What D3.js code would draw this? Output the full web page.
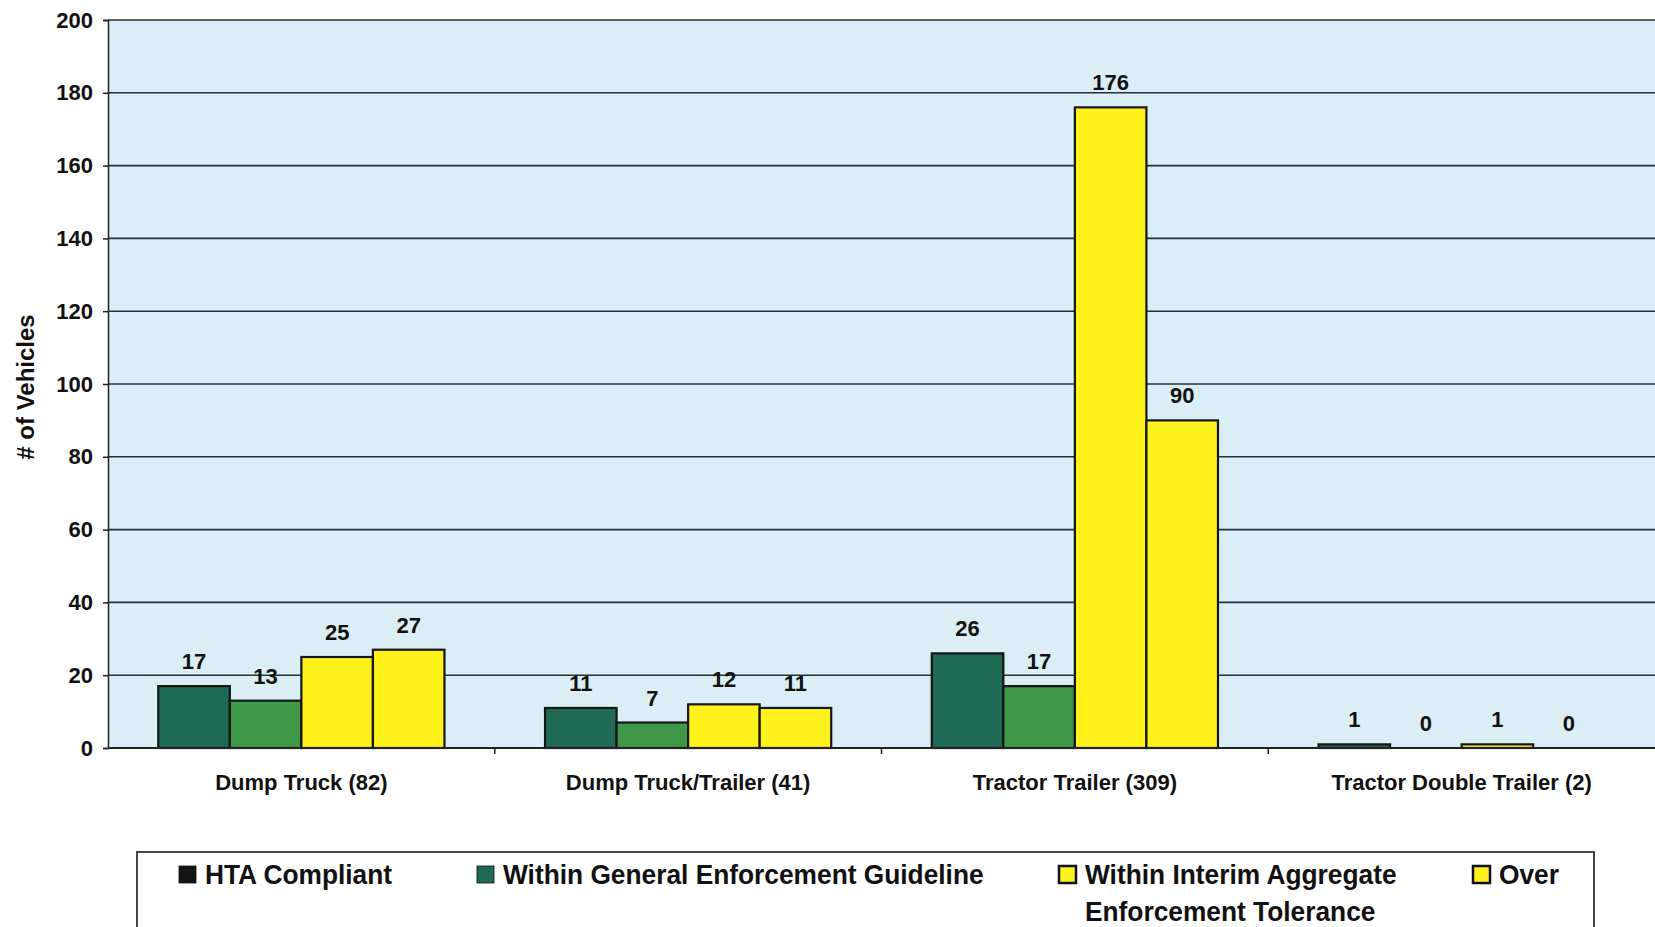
<!DOCTYPE html>
<html>
<head>
<meta charset="utf-8">
<script src="https://cdn.jsdelivr.net/npm/d3@7"></script>
<style>
  html, body { margin: 0; padding: 0; background: #ffffff; }
  svg { display: block; }
  text { font-family: "Liberation Sans", Arial, sans-serif; font-weight: bold; fill: #111; }
</style>
</head>
<body>
<svg id="chart" width="1655" height="927"></svg>
<script>
// Vehicle classes and the number of vehicles in each weight category
const categories = ["Dump Truck (82)", "Dump Truck/Trailer (41)", "Tractor Trailer (309)", "Tractor Double Trailer (2)"];
const seriesNames = ["HTA Compliant", "Within General Enforcement Guideline", "Within Interim Aggregate Enforcement Tolerance", "Over"];
const htaCompliant   = [17, 11, 26, 1];
const withinGeneral  = [13, 7, 17, 0];
const withinInterim  = [25, 12, 176, 1];
const overLimit      = [27, 11, 90, 0];
const yTicks = [0, 20, 40, 60, 80, 100, 120, 140, 160, 180, 200];

const seriesValues = [htaCompliant, withinGeneral, withinInterim, overLimit];
const seriesColors = ["#1f6a54", "#3f9847", "#fff21c", "#fff21c"];
const legendSwatch = ["#141414", "#1f6a54", "#fff21c", "#fff21c"];

const svg = d3.select("#chart");
const plot = { left: 108, right: 1655, top: 20, bottom: 748 };

const x0 = d3.scaleBand().domain(categories)
  .range([plot.left, plot.right]).paddingInner(0.26).paddingOuter(0.13);
const x1 = d3.scaleBand().domain(d3.range(seriesNames.length))
  .range([0, x0.bandwidth()]).padding(0);
const y = d3.scaleLinear().domain([0, 200]).range([plot.bottom, plot.top]);

// plot background
svg.append("rect")
  .attr("x", plot.left).attr("y", plot.top)
  .attr("width", plot.right - plot.left).attr("height", plot.bottom - plot.top)
  .attr("fill", "#d9eff5");

// horizontal gridlines
svg.append("g").selectAll("line").data(yTicks.filter(d => d > 0)).join("line")
  .attr("x1", plot.left).attr("x2", plot.right)
  .attr("y1", d => y(d)).attr("y2", d => y(d))
  .attr("stroke", "#2a2f33").attr("stroke-width", 1.6);

// y axis
const yAxis = svg.append("g").attr("transform", `translate(${plot.left},0)`)
  .call(d3.axisLeft(y).tickValues(yTicks).tickSize(5).tickPadding(10));
yAxis.select(".domain").attr("stroke", "#222").attr("stroke-width", 1.5);
yAxis.selectAll(".tick line").attr("stroke", "#222").attr("stroke-width", 1.5);
yAxis.selectAll(".tick text")
  .attr("font-size", 22).attr("font-family", "Liberation Sans, Arial, sans-serif")
  .attr("font-weight", "bold").attr("fill", "#111");

// y axis title
svg.append("text")
  .attr("transform", `translate(34,${(plot.top + plot.bottom) / 2 + 3}) rotate(-90)`)
  .attr("text-anchor", "middle")
  .attr("font-size", 24)
  .text("# of Vehicles");

// bars
const groups = svg.append("g").selectAll("g").data(categories).join("g")
  .attr("transform", d => `translate(${x0(d)},0)`);

groups.selectAll("rect")
  .data((c, ci) => seriesValues.map((vals, si) => ({ si, v: vals[ci] })))
  .join("rect")
  .attr("x", d => x1(d.si))
  .attr("y", d => y(d.v))
  .attr("width", x1.bandwidth())
  .attr("height", d => y(0) - y(d.v))
  .attr("fill", d => seriesColors[d.si])
  .attr("stroke", "#151515").attr("stroke-width", 2.2);

// value labels
groups.selectAll("text.val")
  .data((c, ci) => seriesValues.map((vals, si) => ({ si, v: vals[ci] })))
  .join("text").attr("class", "val")
  .attr("x", d => x1(d.si) + x1.bandwidth() / 2)
  .attr("y", d => y(d.v) - 17)
  .attr("text-anchor", "middle")
  .attr("font-size", 22)
  .text(d => d.v);

// x axis baseline with ticks between groups
const xAxis = svg.append("g");
xAxis.append("line")
  .attr("x1", plot.left).attr("x2", plot.right)
  .attr("y1", plot.bottom).attr("y2", plot.bottom)
  .attr("stroke", "#222").attr("stroke-width", 2);
const boundaries = categories.slice(1).map(c => x0(c) - x0.step() * x0.paddingInner() / 2);
xAxis.selectAll("line.tk").data(boundaries).join("line").attr("class", "tk")
  .attr("x1", d => d).attr("x2", d => d)
  .attr("y1", plot.bottom).attr("y2", plot.bottom + 6)
  .attr("stroke", "#222").attr("stroke-width", 1.5);
xAxis.selectAll("text").data(categories).join("text")
  .attr("x", d => x0(d) + x0.bandwidth() / 2)
  .attr("y", plot.bottom + 42)
  .attr("text-anchor", "middle")
  .attr("font-size", 22)
  .text(d => d);

// legend
const legend = svg.append("g");
legend.append("rect")
  .attr("x", 137).attr("y", 852).attr("width", 1457).attr("height", 90)
  .attr("fill", "#ffffff").attr("stroke", "#333").attr("stroke-width", 1.8);

const legendX = [179, 477, 1059, 1473];
const legendLines = [["HTA Compliant"], ["Within General Enforcement Guideline"],
  ["Within Interim Aggregate", "Enforcement Tolerance"], ["Over"]];
const items = legend.selectAll("g.item").data(seriesNames).join("g").attr("class", "item")
  .attr("transform", (d, i) => `translate(${legendX[i]},0)`);
items.append("rect")
  .attr("x", 0).attr("y", 866).attr("width", 17).attr("height", 17)
  .attr("fill", (d, i) => legendSwatch[i])
  .attr("stroke", "#111").attr("stroke-width", (d, i) => i >= 2 ? 2.5 : 0.8);
items.each(function (d, i) {
  const t = d3.select(this).append("text")
    .attr("transform", "translate(26,884) scale(0.94,1)")
    .attr("font-size", 28);
  legendLines[i].forEach((line, li) => {
    t.append("tspan").attr("x", 0).attr("dy", li === 0 ? 0 : 37)
      .text(line);
  });
});
</script>
</body>
</html>
